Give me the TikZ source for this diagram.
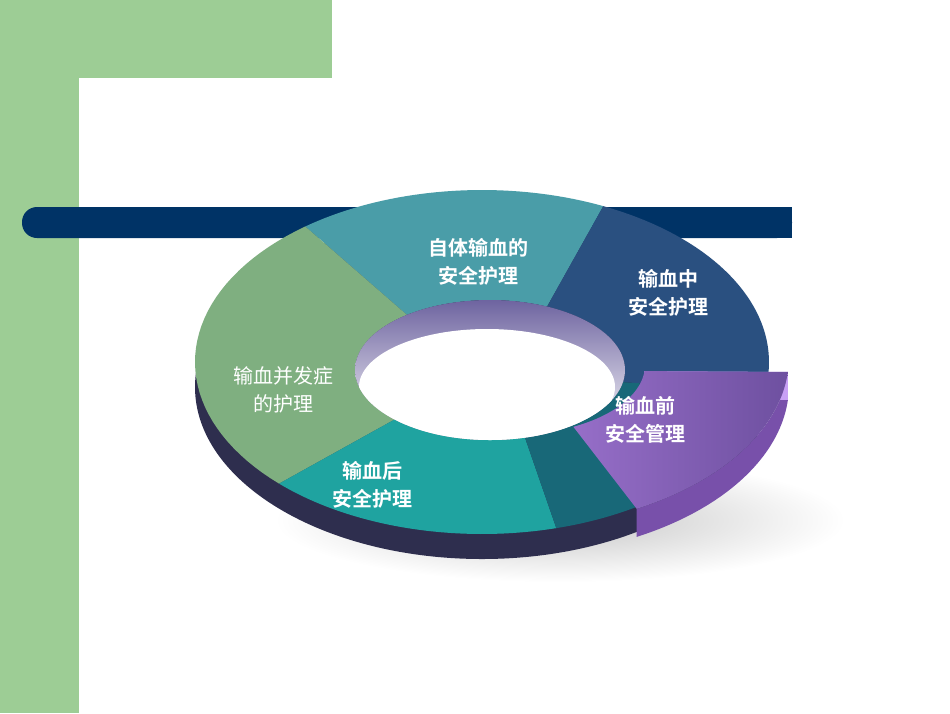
\documentclass[tikz,border=0pt]{standalone}
\usepackage{fontspec}
\newfontfamily\cjk{Noto Sans CJK SC}
\newfontfamily\cjkb{Noto Sans CJK SC Bold}
\definecolor{bggreen}{RGB}{157,205,149}
\definecolor{navy}{RGB}{0,51,102}
\definecolor{sidec}{RGB}{46,46,78}
\definecolor{tealtop}{RGB}{74,157,168}
\definecolor{bluec}{RGB}{42,80,128}
\definecolor{greenc}{RGB}{127,175,128}
\definecolor{tealbot}{RGB}{31,163,160}
\definecolor{darkteal}{RGB}{24,104,120}
\definecolor{holec}{RGB}{110,100,160}
\definecolor{purside}{RGB}{120,80,170}
\definecolor{purend}{RGB}{200,160,245}
\definecolor{purl}{RGB}{150,110,200}
\definecolor{purr}{RGB}{110,80,160}
\begin{document}
\begin{tikzpicture}[x=1pt,y=-1pt,
  lbl/.style={text=white,font=\cjkb\fontsize{20}{28}\selectfont,align=center},
  lbln/.style={text=white,font=\cjk\fontsize{20}{28}\selectfont,align=center}]
\def\cx{482}\def\cy{362}\def\rx{287}\def\ry{172}
\def\ix{490}\def\iy{370}\def\irx{135}\def\iry{70}
\newcommand\sector[3]{%
  \fill[#3] plot[domain=#1:#2,samples=40] ({\cx+\rx*cos(\x)},{\cy-\ry*sin(\x)})
   -- plot[domain=#2:#1,samples=40] ({\ix+\irx*cos(\x)},{\iy-\iry*sin(\x)}) -- cycle;}
\useasboundingbox (0,0) rectangle (950,713);
\fill[white] (0,0) rectangle (950,713);
\fill[bggreen] (0,0) rectangle (332,78);
\fill[bggreen] (0,0) rectangle (79,713);
\fill[white,rounded corners=22] (79,78) rectangle (400,200);
\fill[white] (150,78) rectangle (400,200);
\fill[white] (79,150) rectangle (400,200);
\fill[navy,rounded corners=15] (22,207) rectangle (792,238);
\fill[navy] (60,207) rectangle (792,238);
\shade[inner color=gray!45,outer color=white] (560,520) ellipse [x radius=285,y radius=62];
\fill[sidec] (\cx,\cy+25) ellipse [x radius=\rx,y radius=\ry];
\sector{65}{128}{tealtop}
\sector{-10}{65}{bluec}
\sector{128}{225}{greenc}
\sector{225}{285}{tealbot}
\sector{285}{350}{darkteal}
\shade[top color=holec,bottom color=white] (\ix,\iy) ellipse [x radius=\irx,y radius=\iry];
\begin{scope}
\clip (\ix,\iy) ellipse [x radius=\irx,y radius=\iry];
\fill[white] (487,387) ellipse [x radius=128,y radius=58];
\end{scope}
\begin{scope}[shift={(20,-5)}]
\fill[purside] plot[domain=-62:-5,samples=30] ({\cx+\rx*cos(\x)},{\cy-\ry*sin(\x)+28})
  -- plot[domain=-5:-62,samples=30] ({\cx+\rx*cos(\x)},{\cy-\ry*sin(\x)}) -- cycle;
\fill[purend] ({\ix+\irx*cos(-5)},{\iy-\iry*sin(-5)}) -- ({\cx+\rx*cos(-5)},{\cy-\ry*sin(-5)}) -- ({\cx+\rx*cos(-5)},{\cy-\ry*sin(-5)+28}) -- ({\ix+\irx*cos(-5)},{\iy-\iry*sin(-5)+28}) -- cycle;
\shade[left color=purl,right color=purr] plot[domain=-62:-5,samples=30] ({\cx+\rx*cos(\x)},{\cy-\ry*sin(\x)})
   -- plot[domain=-5:-62,samples=30] ({\ix+\irx*cos(\x)},{\iy-\iry*sin(\x)}) -- cycle;
\end{scope}
\node[lbl] (a) at (478,262) {自体输血的\\安全护理};
\node[lbl] (b) at (668,293) {输血中\\安全护理};
\node[lbl] (c) at (645,420) {输血前\\安全管理};
\node[lbln] (d) at (283,390) {输血并发症\\的护理};
\node[lbl] (e) at (372,485) {输血后\\安全护理};
\end{tikzpicture}
\end{document}
